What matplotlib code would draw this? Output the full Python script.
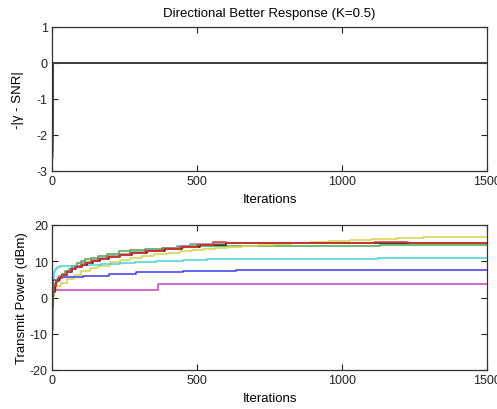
import matplotlib
matplotlib.use("Agg")
import matplotlib.pyplot as plt

plt.rcParams['font.family'] = ['Liberation Sans', 'DejaVu Sans']
plt.rcParams['font.size'] = 9
plt.rcParams['axes.unicode_minus'] = False

# ---- top panel: -|gamma - SNR| per user ----
top_iters = [2, 3, 1500]
top_start = [-2.65, -2.6, -2.45, -2.2, -1.8, -1.3, -0.9, -0.6]

# ---- bottom panel: transmit power (dBm) per user, step-wise ----
gray_it = [0, 1, 2, 4, 8, 14, 22, 34, 50, 65, 80, 100, 115, 135, 160, 190, 230, 270, 320, 380, 430, 476, 513, 555, 1500]
gray_db = [-4, -1, 1, 2.5, 3.8, 4.8, 5.6, 6.5, 7.4, 8.1, 8.7, 9.4, 9.9, 10.4, 10.8, 11.4, 12.0, 12.5, 13.0, 13.6, 14.1, 14.7, 14.8, 15.1, 15.1]

red_it = [0, 1, 2, 4, 8, 14, 22, 34, 50, 65, 80, 100, 115, 135, 160, 190, 230, 270, 320, 380, 440, 500, 556, 600, 1111, 1227, 1500]
red_db = [-7.6, -3, -0.5, 1.5, 3.2, 4.5, 5.4, 6.2, 7.1, 7.8, 8.4, 9.1, 9.6, 10.1, 10.5, 11.1, 11.7, 12.2, 12.7, 13.3, 13.9, 14.5, 15.4, 15.1, 15.4, 15.1, 15.1]

black_it = [0, 1, 2, 4, 9, 15, 24, 36, 53, 68, 84, 104, 120, 140, 166, 196, 236, 276, 328, 388, 448, 510, 600, 1500]
black_db = [-5, -2, 0, 1.5, 3.2, 4.5, 5.4, 6.2, 7.1, 7.8, 8.4, 9.1, 9.6, 10.1, 10.5, 11.1, 11.7, 12.2, 12.7, 13.3, 13.9, 14.5, 15.1, 15.1]

green_it = [0, 1, 2, 3, 5, 8, 12, 18, 25, 34, 45, 57, 70, 85, 100, 115, 135, 160, 190, 230, 270, 320, 380, 450, 550, 1131, 1500]
green_db = [-15, -9, -5, -2, 0.5, 2.5, 4.0, 5.2, 5.9, 6.5, 7.3, 8.0, 8.8, 9.5, 10.0, 10.5, 11.0, 11.4, 12.0, 12.7, 13.0, 13.3, 13.7, 14.1, 14.3, 14.5, 14.5]

yellow_it = [0, 1, 3, 6, 10, 18, 30, 50, 75, 100, 130, 160, 200, 234, 270, 310, 350, 400, 441, 482, 520, 562, 608, 654, 712, 766, 824, 890, 956, 1028, 1103, 1189, 1279, 1500]
yellow_db = [-3, -1, 0.5, 1.5, 2.3, 3.2, 3.9, 5.1, 6.3, 7.3, 8.1, 8.8, 9.7, 10.3, 10.9, 11.5, 12.0, 12.4, 12.8, 13.2, 13.5, 13.7, 14.0, 14.3, 14.5, 14.8, 15.0, 15.4, 15.6, 15.95, 16.2, 16.5, 16.8, 16.8]

cyan_it = [0, 1, 3, 6, 10, 18, 28, 107, 170, 234, 286, 360, 450, 534, 614, 1124, 1500]
cyan_db = [0, 3, 5.5, 7, 8, 8.5, 8.8, 9.0, 9.3, 9.6, 9.9, 10.1, 10.3, 10.5, 10.7, 11.0, 11.0]

blue_it = [0, 1, 3, 28, 107, 195, 290, 364, 452, 634, 1500]
blue_db = [1, 3, 4.8, 5.6, 6.0, 6.5, 6.9, 7.1, 7.3, 7.6, 7.6]

magenta_it = [0, 1, 3, 8, 364, 1500]
magenta_db = [-2, 0, 1.5, 2.05, 3.6, 3.6]

series = [
    (green_it, green_db, '#48a848'),
    (yellow_it, yellow_db, '#d6d24a'),
    (cyan_it, cyan_db, '#4ad2d2'),
    (blue_it, blue_db, '#3a3af0'),
    (magenta_it, magenta_db, '#c444c4'),
    (gray_it, gray_db, '#8c8c8c'),
    (black_it, black_db, '#202020'),
    (red_it, red_db, '#e83434'),
]

fig = plt.figure(figsize=(4.97, 4.10), dpi=100)
fig.patch.set_facecolor('white')

ax1 = fig.add_axes([52 / 497, 1 - 172 / 410, 435 / 497, 144 / 410])
ax2 = fig.add_axes([52 / 497, 1 - 371 / 410, 435 / 497, 145 / 410])

for s in top_start:
    ax1.plot(top_iters, [s, 0, 0], color='#404040', lw=1.0)
ax1.set_xlim(0, 1500)
ax1.set_ylim(-3, 1)
ax1.set_yticks([-3, -2, -1, 0, 1])
ax1.set_xticks([0, 500, 1000, 1500])
ax1.set_xlabel('Iterations', labelpad=4, fontsize=9.5)
ax1.set_ylabel('-|γ - SNR|', labelpad=9, fontsize=9.5)
ax1.set_title('Directional Better Response (K=0.5)', fontsize=9.5, pad=8)

for it, db, c in series:
    ax2.plot(it, db, drawstyle='steps-post', color=c, lw=1.1)
ax2.set_xlim(0, 1500)
ax2.set_ylim(-20, 20)
ax2.set_yticks([-20, -10, 0, 10, 20])
ax2.set_xticks([0, 500, 1000, 1500])
ax2.set_xlabel('Iterations', labelpad=4, fontsize=9.5)
ax2.set_ylabel('Transmit Power (dBm)', labelpad=1, fontsize=9.5)

for ax in (ax1, ax2):
    ax.tick_params(direction='in', length=4, width=0.8, top=True, right=True,
                   colors='#222222', pad=3)
    for sp in ax.spines.values():
        sp.set_color('#333333')
        sp.set_linewidth(0.9)

fig.savefig('out.png', dpi=100, facecolor='white')
